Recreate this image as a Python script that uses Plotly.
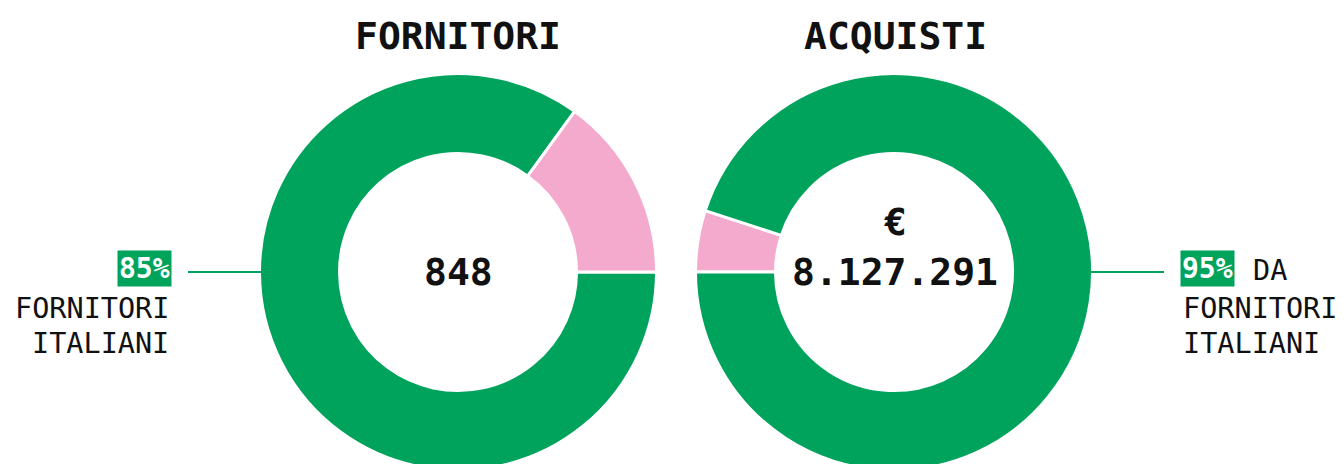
import plotly.graph_objects as go

# --- data -------------------------------------------------------------
slice_labels = ["Fornitori italiani", "Fornitori esteri"]
fornitori_share = [85, 15]      # % of suppliers
acquisti_share = [95, 5]        # % of purchases
fornitori_total = "848"
acquisti_total = "8.127.291"
titles = ["FORNITORI", "ACQUISTI"]

# --- styling ------------------------------------------------------------
GREEN = "#00a35c"
PINK = "#f4aacd"
MONO = "DejaVu Sans Mono"
W, H = 1344, 480


def fx(x):
    return x / W


def fy(y):
    return 1 - y / H


def pie_domain(cx, cy, r):
    return dict(x=[fx(cx - r), fx(cx + r)], y=[fy(cy + r), fy(cy - r)])


fig = go.Figure()

# suppliers: Italian share runs clockwise from 3 o'clock
fig.add_trace(go.Pie(
    labels=slice_labels, values=fornitori_share, sort=False,
    direction="clockwise", rotation=90, hole=0.597,
    marker=dict(colors=[GREEN, PINK], line=dict(color="white", width=3)),
    textinfo="none", hoverinfo="label+percent",
    domain=pie_domain(458, 272, 198.5),
))

# purchases: foreign share first, clockwise from 9 o'clock
fig.add_trace(go.Pie(
    labels=slice_labels[::-1], values=acquisti_share[::-1], sort=False,
    direction="clockwise", rotation=270, hole=0.597,
    marker=dict(colors=[PINK, GREEN], line=dict(color="white", width=3)),
    textinfo="none", hoverinfo="label+percent",
    domain=pie_domain(894, 272, 198.5),
))

ann = []


def text(x, y, s, size, xanchor="center", bold=False, color="#111111", **kw):
    ann.append(dict(
        x=fx(x), y=fy(y), xref="paper", yref="paper", text=s, showarrow=False,
        xanchor=xanchor, yanchor="middle",
        font=dict(family=MONO, size=size, color=color,
                  weight="bold" if bold else "normal"),
        **kw,
    ))


# titles
text(458, 36, titles[0], 38, bold=True)
text(895, 36, titles[1], 38, bold=True)

# centre totals
text(458, 272, fornitori_total, 38, bold=True)
text(895, 222, "€", 38, bold=True)
text(895, 272, acquisti_total, 38, bold=True)

# left callout
text(172, 268, f"{fornitori_share[0]}%", 28, xanchor="right", bold=True,
     color="white", bgcolor=GREEN, borderpad=1)
text(171, 308, "FORNITORI", 28.5, xanchor="right")
text(171, 343, "ITALIANI", 28.5, xanchor="right")

# right callout
text(1180, 268, f"{acquisti_share[0]}%", 28, xanchor="left", bold=True,
     color="white", bgcolor=GREEN, borderpad=1)
text(1251, 270, "DA", 28.5, xanchor="left")
text(1181, 308, "FORNITORI", 28.5, xanchor="left")
text(1181, 343, "ITALIANI", 28.5, xanchor="left")

shapes = [
    dict(type="line", xref="paper", yref="paper",
         x0=fx(188), x1=fx(262), y0=fy(272), y1=fy(272),
         line=dict(color=GREEN, width=2)),
    dict(type="line", xref="paper", yref="paper",
         x0=fx(1091), x1=fx(1164), y0=fy(272), y1=fy(272),
         line=dict(color=GREEN, width=2)),
]

fig.update_layout(
    width=W, height=H,
    margin=dict(l=0, r=0, t=0, b=0),
    paper_bgcolor="white", plot_bgcolor="white",
    showlegend=False,
    annotations=ann, shapes=shapes,
)

fig.write_html(
    "out.html",
    post_script="document.body.style.margin='0';document.body.style.overflow='hidden';",
)
